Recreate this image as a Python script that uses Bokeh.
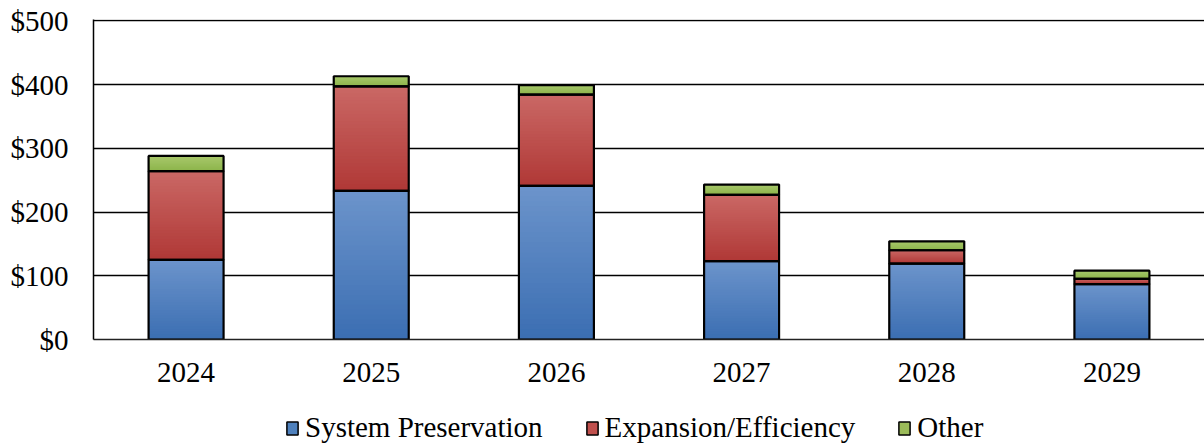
from bokeh.plotting import figure
from bokeh.layouts import column
from bokeh.models import Legend, LegendItem, FixedTicker, NumeralTickFormatter, Range1d
from bokeh.embed import file_html
from bokeh.resources import INLINE

years = ["2024", "2025", "2026", "2027", "2028", "2029"]
system_preservation = [125, 233, 241, 123, 119, 87]
expansion_efficiency = [139, 164, 143, 104, 21, 8]
other = [24, 16, 15, 16, 14, 13]
series_names = ["System Preservation", "Expansion/Efficiency", "Other"]
y_ticks = [0, 100, 200, 300, 400, 500]

FONT = "Liberation Serif"
FS = "29px"
BAR_W = 0.405
# (top colour, bottom colour, legend colour)
palette = [
    ((108, 148, 203), (59, 110, 178), "#4F81BD"),
    ((202, 104, 101), (176, 56, 54), "#C0504D"),
    ((168, 200, 108), (140, 180, 74), "#9BBB59"),
]

p = figure(x_range=years, y_range=Range1d(0, 502), width=1204, height=400,
           output_backend="svg", toolbar_location=None,
           min_border_left=93, min_border_right=0, min_border_top=19,
           min_border_bottom=61)
p.outline_line_color = None
p.background_fill_color = "white"
p.border_fill_color = "white"

series = [system_preservation, expansion_efficiency, other]
bottoms = [0] * len(years)
seg_bottom, seg_top, seg_x = [], [], []
slice_x, slice_b, slice_t, slice_c = [], [], [], []
N = 30
for si, vals in enumerate(series):
    tops = [b + v for b, v in zip(bottoms, vals)]
    ctop, cbot, _ = palette[si]
    for yr, b, t in zip(years, bottoms, tops):
        # nested rectangles from the segment bottom, tallest (lightest) first
        for k in range(N):
            frac = (N - k) / N
            f = (N - k - 0.5) / N  # colour position (1 = top)
            col = tuple(int(round(cbot[j] + (ctop[j] - cbot[j]) * f)) for j in range(3))
            slice_x.append(yr)
            slice_b.append(b)
            slice_t.append(b + (t - b) * frac)
            slice_c.append("#%02x%02x%02x" % col)
        seg_x.append(yr)
        seg_bottom.append(b)
        seg_top.append(t)
    bottoms = tops

p.vbar(x=slice_x, bottom=slice_b, top=slice_t, width=BAR_W, fill_color=slice_c, line_color=None)
p.vbar(x=seg_x, bottom=seg_bottom, top=seg_top, width=BAR_W, fill_color=None,
       line_color="black", line_width=2.2)

# axes
p.yaxis.ticker = FixedTicker(ticks=y_ticks)
p.yaxis.formatter = NumeralTickFormatter(format="$0")
p.yaxis.major_label_text_font = FONT
p.yaxis.major_label_text_font_size = FS
p.yaxis.major_label_text_color = "black"
p.yaxis.major_tick_line_color = None
p.yaxis.major_tick_out = 0
p.yaxis.major_tick_in = 0
p.yaxis.minor_tick_line_color = None
p.yaxis.major_label_standoff = 25
p.yaxis.axis_line_color = "black"
p.yaxis.axis_line_width = 1.5

p.xaxis.major_label_text_font = FONT
p.xaxis.major_label_text_font_size = FS
p.xaxis.major_label_text_color = "black"
p.xaxis.major_tick_line_color = None
p.xaxis.major_tick_out = 0
p.xaxis.major_tick_in = 0
p.xaxis.minor_tick_line_color = None
p.xaxis.major_label_standoff = 23
p.xaxis.axis_line_color = "#222222"
p.xaxis.axis_line_width = 1.5

p.xgrid.grid_line_color = None
p.ygrid.ticker = FixedTicker(ticks=y_ticks[1:])
p.ygrid.grid_line_color = "black"
p.ygrid.grid_line_width = 1.5
p.x_range.range_padding = 0

# legend strip (frame is aligned with the main plot's frame by the column layout)
lg = figure(width=1111, height=44, output_backend="svg", toolbar_location=None,
            x_range=Range1d(0, 1), y_range=Range1d(0, 1),
            min_border_left=0, min_border_right=0, min_border_top=0, min_border_bottom=0)
lg.axis.visible = False
lg.grid.visible = False
lg.outline_line_color = None
nan = float("nan")
proxies = [lg.vbar(x=[0.5], top=[nan], bottom=[nan], width=0.1, fill_color=c[2],
                   line_color="black", line_width=1.5)
           for c in palette]
legend = Legend(items=[LegendItem(label=n, renderers=[r]) for n, r in zip(series_names, proxies)],
                orientation="horizontal", location=(192, 0),
                label_text_font=FONT, label_text_font_size=FS, label_text_color="black",
                glyph_width=14, glyph_height=16, label_standoff=6, spacing=42,
                padding=0, margin=0, border_line_color=None, background_fill_alpha=0)
lg.add_layout(legend, "center")

open("out.html", "w").write(file_html(column(p, lg, spacing=0), INLINE))
